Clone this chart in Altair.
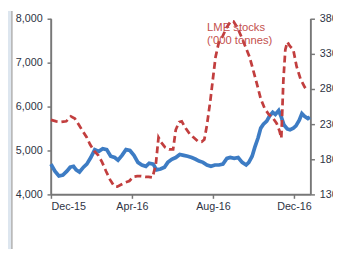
import altair as alt
import pandas as pd

# Copper price ($/mt), left axis
cu_dates = [
    "2015-12-01", "2015-12-07", "2015-12-13", "2015-12-19", "2015-12-25", "2015-12-30",
    "2016-01-04", "2016-01-08", "2016-01-13", "2016-01-19", "2016-01-24", "2016-01-30",
    "2016-02-05", "2016-02-11", "2016-02-17", "2016-02-23", "2016-02-29", "2016-03-06",
    "2016-03-11", "2016-03-17", "2016-03-23", "2016-03-29", "2016-04-04", "2016-04-10",
    "2016-04-16", "2016-04-22", "2016-04-27", "2016-05-03", "2016-05-08", "2016-05-14",
    "2016-05-20", "2016-05-25", "2016-05-31", "2016-06-06", "2016-06-12", "2016-06-18",
    "2016-06-24", "2016-06-30", "2016-07-06", "2016-07-11", "2016-07-17", "2016-07-23",
    "2016-07-29", "2016-08-04", "2016-08-10", "2016-08-16", "2016-08-22", "2016-08-27",
    "2016-09-02", "2016-09-08", "2016-09-14", "2016-09-20", "2016-09-24", "2016-09-29",
    "2016-10-03", "2016-10-08", "2016-10-12", "2016-10-16", "2016-10-21", "2016-10-25",
    "2016-10-30", "2016-11-03", "2016-11-08", "2016-11-12", "2016-11-16", "2016-11-21",
    "2016-11-25", "2016-11-30", "2016-12-04", "2016-12-09", "2016-12-13", "2016-12-17",
    "2016-12-22", "2016-12-25",
]
cu_price = [
    4690, 4530, 4420, 4440, 4530, 4620,
    4640, 4560, 4510, 4620, 4690, 4840,
    5020, 4980, 5040, 5020, 4870, 4840,
    4780, 4890, 5020, 5000, 4890, 4730,
    4670, 4640, 4710, 4690, 4560, 4580,
    4620, 4730, 4800, 4840, 4910, 4890,
    4870, 4840, 4800, 4760, 4730, 4670,
    4640, 4670, 4670, 4690, 4820, 4840,
    4820, 4840, 4730, 4670, 4730, 4870,
    5070, 5290, 5510, 5600, 5670, 5780,
    5870, 5820, 5910, 5760, 5580, 5490,
    5470, 5510, 5560, 5690, 5840, 5780,
    5730, 5760,
]

# LME stocks ('000 tonnes), right axis
lme_dates = [
    "2015-12-01", "2015-12-09", "2015-12-16", "2015-12-24", "2015-12-31", "2016-01-06",
    "2016-01-12", "2016-01-18", "2016-01-24", "2016-01-29", "2016-02-04", "2016-02-10",
    "2016-02-16", "2016-02-22", "2016-02-28", "2016-03-05", "2016-03-10", "2016-03-16",
    "2016-03-22", "2016-03-28", "2016-04-03", "2016-04-09", "2016-04-15", "2016-04-21",
    "2016-04-26", "2016-05-02", "2016-05-07", "2016-05-11", "2016-05-15", "2016-05-21",
    "2016-05-27", "2016-06-02", "2016-06-06", "2016-06-11", "2016-06-15", "2016-06-21",
    "2016-06-27", "2016-07-03", "2016-07-09", "2016-07-15", "2016-07-19", "2016-07-23",
    "2016-07-28", "2016-08-01", "2016-08-05", "2016-08-10", "2016-08-16", "2016-08-22",
    "2016-08-28", "2016-09-01", "2016-09-07", "2016-09-13", "2016-09-19", "2016-09-25",
    "2016-09-30", "2016-10-06", "2016-10-12", "2016-10-18", "2016-10-24", "2016-10-30",
    "2016-11-05", "2016-11-09", "2016-11-12", "2016-11-15", "2016-11-18", "2016-11-21",
    "2016-11-25", "2016-11-30", "2016-12-05", "2016-12-11", "2016-12-17", "2016-12-22",
]
lme_stocks = [
    236, 234, 233, 234, 241, 238,
    229, 220, 211, 201, 192, 186,
    176, 163, 151, 142, 141, 144,
    147, 149, 155, 156, 156, 155,
    155, 154, 173, 211, 204, 197,
    194, 194, 222, 233, 234, 224,
    216, 211, 206, 205, 208, 229,
    263, 295, 326, 347, 356, 368,
    377, 376, 367, 354, 340, 326,
    309, 288, 266, 252, 244, 239,
    231, 221, 210, 291, 336, 347,
    341, 336, 312, 294, 283, 277,
]

label_lines = ["LME stocks", "('000 tonnes)"]
left_ticks = [4000, 5000, 6000, 7000, 8000]
right_ticks = [130, 180, 230, 280, 330, 380]

cu_df = pd.DataFrame({"date": cu_dates, "price": cu_price})
lme_df = pd.DataFrame({"date": lme_dates, "stocks": lme_stocks})
one = pd.DataFrame({"a": [0]})

FONT = "Liberation Sans"
GRAY = "#777777"
AX = dict(
    domain=True, ticks=True, domainColor=GRAY, tickColor=GRAY,
    domainWidth=1.5, tickWidth=1.5, tickSize=4, grid=False,
    labelFont=FONT, labelFontSize=11, labelColor="#2e3344", title=None,
)

xscale = alt.Scale(type="utc", domain=["2015-12-01", "2016-12-26"], nice=False)
xaxis = alt.Axis(
    values=[
        alt.DateTime(year=2015, month=12, date=1, utc=True),
        alt.DateTime(year=2016, month=4, date=1, utc=True),
        alt.DateTime(year=2016, month=8, date=1, utc=True),
        alt.DateTime(year=2016, month=12, date=1, utc=True),
    ],
    format="%b-%y",
    labelPadding=2,
    **AX,
)

copper = alt.Chart(cu_df).mark_line(color="#3d7cc4", strokeWidth=3.8).encode(
    x=alt.X("date:T", scale=xscale, axis=xaxis),
    y=alt.Y(
        "price:Q",
        scale=alt.Scale(domain=[4000, 8000], nice=False),
        axis=alt.Axis(values=left_ticks, format=",.0f", orient="left",
                      labelPadding=5, **AX),
    ),
)

stocks = alt.Chart(lme_df).mark_line(
    color="#c23e3e", strokeWidth=2.8, strokeDash=[7, 4]
).encode(
    x=alt.X("date:T", scale=xscale),
    y=alt.Y(
        "stocks:Q",
        scale=alt.Scale(domain=[130, 380], nice=False),
        axis=alt.Axis(values=right_ticks, format="d", orient="right",
                      labelPadding=5, **AX),
    ),
)

label = alt.Chart(one).mark_text(
    align="left", baseline="middle", font=FONT, fontSize=11.5,
    color="#c4504d", lineHeight=13,
).encode(
    x=alt.value(160), y=alt.value(10), text=alt.value(label_lines)
)

strip = alt.Chart(one).mark_rect(color="#dde6ef").encode(
    x=alt.value(-44), x2=alt.value(-41), y=alt.value(-8), y2=alt.value(236)
)
edge = alt.Chart(one).mark_rule(color="#9a9a9a", strokeWidth=1.2).encode(
    x=alt.value(-40), y=alt.value(-8), y2=alt.value(236)
)
# plot frame lines (left, right, bottom)
frame_l = alt.Chart(one).mark_rule(color=GRAY, strokeWidth=1.3).encode(
    x=alt.value(0), y=alt.value(0), y2=alt.value(180)
)
frame_r = alt.Chart(one).mark_rule(color=GRAY, strokeWidth=1.3).encode(
    x=alt.value(266), y=alt.value(0), y2=alt.value(180)
)
frame_b = alt.Chart(one).mark_rule(color=GRAY, strokeWidth=1.3).encode(
    x=alt.value(0), x2=alt.value(266), y=alt.value(180)
)

chart = (
    alt.layer(strip, edge, frame_l, frame_r, frame_b, copper, stocks, label)
    .resolve_scale(y="independent")
    .properties(
        width=266,
        height=180,
        autosize=alt.AutoSizeParams(type="none"),
        padding={"left": 44, "top": 8, "right": 23, "bottom": 56},
    )
    .configure_view(stroke=None)
)

chart.save("out.html", embed_options={"renderer": "svg", "actions": False})
